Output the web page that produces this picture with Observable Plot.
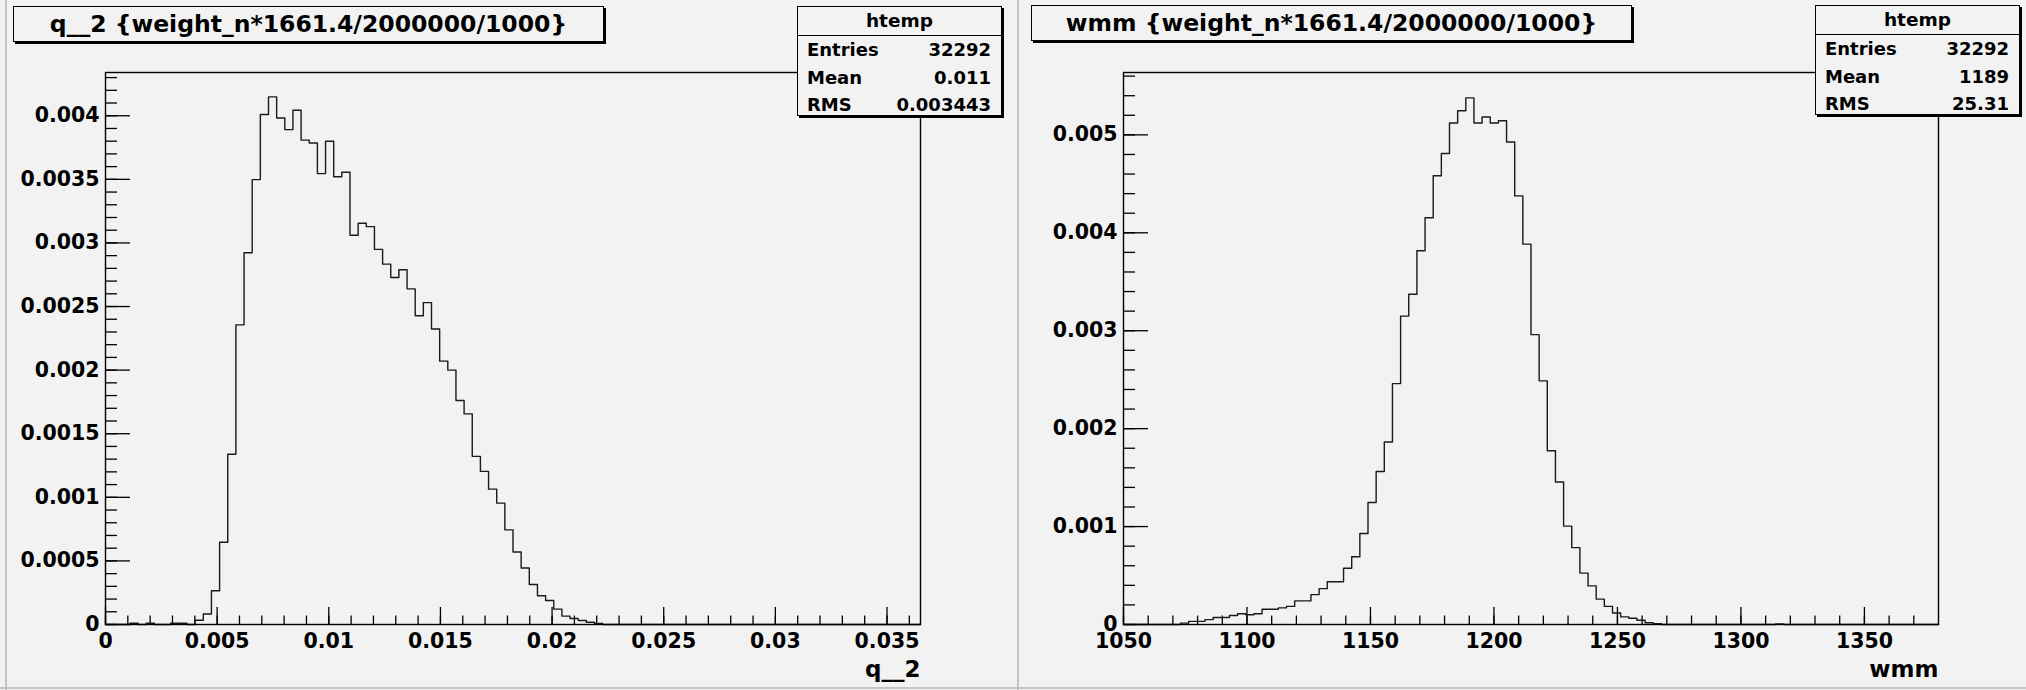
<!DOCTYPE html>
<html>
<head>
<meta charset="utf-8">
<script src="https://cdn.jsdelivr.net/npm/d3@7"></script>
<script src="https://cdn.jsdelivr.net/npm/@observablehq/plot@0.6"></script>
<style>
  html, body { margin: 0; padding: 0; }
  body { width: 2026px; height: 690px; overflow: hidden; position: relative; background: #f2f2f2;
         font-family: "DejaVu Sans", sans-serif; font-weight: bold; color: #000; }
  .pad { position: absolute; top: 0; width: 1013px; height: 690px; }
  .pad svg { position: absolute; left: 0; top: 0; }
  .box { position: absolute; box-sizing: border-box; border: 1.3px solid #000; box-shadow: 2px 2px 0 #000; background: #f2f2f2; }
  .title { font-size: 23.5px; text-align: center; line-height: 1; white-space: nowrap; }
  .title span { position: absolute; left: 0; right: 0; top: 6px; }
  .stats .hdr { position: absolute; left: 0; right: 0; top: 0; height: 28px; border-bottom: 1.3px solid #000; }
  .stats .t { position: absolute; font-size: 18px; line-height: 1; white-space: nowrap; }
  .sep { position: absolute; background: #c4c4c4; }
</style>
</head>
<body>
<div id="left" class="pad" style="left:0"></div>
<div id="right" class="pad" style="left:1013px"></div>
<script>
// ---------- data ----------
const leftTitle = "q__2 {weight_n*1661.4/2000000/1000}";
const rightTitle = "wmm {weight_n*1661.4/2000000/1000}";
const leftXTitle = "q__2";
const rightXTitle = "wmm";
const statsName = "htemp";
const statsLabels = ["Entries", "Mean", "RMS"];
const leftStats = ["32292", "0.011", "0.003443"];
const rightStats = ["32292", "1189", "25.31"];

const leftRange = [0, 0.0365];
const leftValues = [
  0, 0, 0, 0.00001, 0, 0.00001, 0, 0, 0.00001, 0.00001,
  0, 0.000033, 0.000083, 0.000265, 0.000647, 0.001338, 0.002356, 0.002923, 0.003498, 0.00401,
  0.004148, 0.003982, 0.003891, 0.004043, 0.003808, 0.003786, 0.003545, 0.0038, 0.00352, 0.003556,
  0.003061, 0.003155, 0.003128, 0.002949, 0.002833, 0.002728, 0.002789, 0.002639, 0.002428, 0.002531,
  0.002323, 0.002071, 0.002, 0.001761, 0.001656, 0.001322, 0.001204, 0.001064, 0.000954, 0.000744,
  0.00057, 0.000444, 0.000315, 0.000226, 0.000189, 0.000121, 0.000066, 0.000047, 0.000032, 0.000018,
  0.000008, 0, 0, 0, 0, 0, 0, 0, 0, 0,
  0, 0, 0, 0, 0, 0, 0, 0, 0, 0,
  0, 0, 0, 0, 0, 0, 0, 0, 0, 0,
  0, 0, 0, 0, 0, 0, 0, 0, 0, 0
];
const leftXTicks = [0, 0.005, 0.01, 0.015, 0.02, 0.025, 0.03, 0.035];
const leftXLabels = ["0", "0.005", "0.01", "0.015", "0.02", "0.025", "0.03", "0.035"];
const leftYTicks = [0, 0.0005, 0.001, 0.0015, 0.002, 0.0025, 0.003, 0.0035, 0.004];
const leftYLabels = ["0", "0.0005", "0.001", "0.0015", "0.002", "0.0025", "0.003", "0.0035", "0.004"];
const leftYMax = 0.00434;

const rightRange = [1050, 1380];
const rightValues = [
  0, 0, 0, 0, 0, 0, 0, 0.000014, 0.000032, 0.000032,
  0.00005, 0.000071, 0.000071, 0.000092, 0.00011, 0.0001, 0.00011, 0.000156, 0.000156, 0.00017,
  0.000185, 0.000241, 0.000241, 0.000305, 0.000366, 0.000437, 0.000437, 0.000575, 0.000692, 0.00093,
  0.001246, 0.001562, 0.001864, 0.00246, 0.003149, 0.003372, 0.003816, 0.004153, 0.004583, 0.00481,
  0.005122, 0.005247, 0.005378, 0.005122, 0.005183, 0.005122, 0.005144, 0.004927, 0.004377, 0.003884,
  0.00296, 0.002488, 0.001775, 0.001455, 0.001005, 0.000785, 0.000525, 0.000394, 0.000259, 0.000185,
  0.000117, 0.000078, 0.000064, 0.000043, 0.000018, 0.000008, 0, 0, 0, 0,
  0, 0, 0, 0, 0, 0, 0, 0, 0, 0,
  0.000006, 0, 0, 0, 0, 0, 0, 0, 0, 0,
  0, 0, 0, 0, 0, 0, 0, 0, 0, 0
];
const rightXTicks = [1050, 1100, 1150, 1200, 1250, 1300, 1350];
const rightXLabels = ["1050", "1100", "1150", "1200", "1250", "1300", "1350"];
const rightYTicks = [0, 0.001, 0.002, 0.003, 0.004, 0.005];
const rightYLabels = ["0", "0.001", "0.002", "0.003", "0.004", "0.005"];
const rightYMax = 0.005637;

// ---------- drawing ----------
const W = 1013, H = 690, MT = 72, MB = 66;
const INK = "#000";

function histPlot(o) {
  const [x0, x1] = o.range;
  const n = o.values.length, bw = (x1 - x0) / n;
  const pts = o.values.map((v, i) => ({x: x0 + i * bw, y: v}));
  pts.push({x: x1, y: o.values[n - 1]});
  const innerH = H - MT - MB, innerW = W - o.ml - o.mr;
  const xl = new Map(o.xTicks.map((t, i) => [t, o.xLabels[i]]));
  const yl = new Map(o.yTicks.map((t, i) => [t, o.yLabels[i]]));
  return Plot.plot({
    width: W, height: H, marginTop: MT, marginBottom: MB, marginLeft: o.ml, marginRight: o.mr,
    style: {background: "transparent", fontFamily: "DejaVu Sans", fontWeight: "bold", fontSize: "20.5px", color: INK, overflow: "visible"},
    x: {domain: [x0, x1], label: null},
    y: {domain: [0, o.yMax], label: null},
    marks: [
      Plot.tickX(o.xMinor, {x: d => d, insetTop: innerH - 8.5, stroke: INK, strokeWidth: 1.3}),
      Plot.tickX(o.xTicks, {x: d => d, insetTop: innerH - 17, stroke: INK, strokeWidth: 1.3}),
      Plot.tickY(o.yMinor, {y: d => d, insetRight: innerW - 12, stroke: INK, strokeWidth: 1.3}),
      Plot.tickY(o.yTicks, {y: d => d, insetRight: innerW - 25, stroke: INK, strokeWidth: 1.3}),
      Plot.axisX(o.xTicks, {tickSize: 0, tickPadding: 8.5, tickFormat: d => xl.get(d), fontSize: 20.5, fontWeight: "bold"}),
      Plot.axisY(o.yTicks, {tickSize: 0, tickPadding: 6, tickFormat: d => yl.get(d), fontSize: 20.5, fontWeight: "bold"}),
      Plot.line(pts, {x: "x", y: "y", curve: "step-after", stroke: "#1a1a1a", strokeWidth: 1.4}),
      Plot.frame({stroke: INK, strokeWidth: 1.4}),
      Plot.text([o.xTitle], {frameAnchor: "bottom-right", dy: 45, textAnchor: "end", lineAnchor: "middle", fontSize: 23, fontWeight: "bold", fill: INK})
    ]
  });
}

function addBoxes(pad, o) {
  const t = document.createElement("div");
  t.className = "box title";
  Object.assign(t.style, {left: o.tl + "px", top: o.tt + "px", width: o.tw + "px", height: o.th + "px"});
  t.innerHTML = `<span></span>`;
  t.querySelector("span").textContent = o.title;
  pad.appendChild(t);

  const s = document.createElement("div");
  s.className = "box stats";
  Object.assign(s.style, {left: o.sl + "px", top: o.st + "px", width: o.sw + "px", height: o.sh + "px"});
  const hdr = document.createElement("div");
  hdr.className = "hdr";
  s.appendChild(hdr);
  const h = document.createElement("div");
  h.className = "t";
  Object.assign(h.style, {left: "0", right: "0", textAlign: "center", top: "5px", fontSize: "18.5px"});
  h.textContent = statsName;
  s.appendChild(h);
  statsLabels.forEach((lab, i) => {
    const a = document.createElement("div");
    a.className = "t";
    Object.assign(a.style, {left: "9px", top: (34 + i * 27.5) + "px"});
    a.textContent = lab;
    s.appendChild(a);
    const b = document.createElement("div");
    b.className = "t";
    Object.assign(b.style, {right: "10px", top: (34 + i * 27.5) + "px"});
    b.textContent = o.stats[i];
    s.appendChild(b);
  });
  pad.appendChild(s);
}

const leftPad = document.getElementById("left");
const rightPad = document.getElementById("right");

leftPad.appendChild(histPlot({
  range: leftRange, values: leftValues, yMax: leftYMax, ml: 105, mr: 93,
  xTicks: leftXTicks, xLabels: leftXLabels, yTicks: leftYTicks, yLabels: leftYLabels,
  xMinor: d3.range(0, 37).map(i => i * 0.001),
  yMinor: d3.range(0, 44).map(i => i * 0.0001),
  xTitle: leftXTitle
}));
rightPad.appendChild(histPlot({
  range: rightRange, values: rightValues, yMax: rightYMax, ml: 110, mr: 88,
  xTicks: rightXTicks, xLabels: rightXLabels, yTicks: rightYTicks, yLabels: rightYLabels,
  xMinor: d3.range(0, 33).map(i => 1050 + i * 10),
  yMinor: d3.range(0, 29).map(i => i * 0.0002),
  xTitle: rightXTitle
}));

addBoxes(leftPad, {title: leftTitle, tl: 13, tt: 6, tw: 591, th: 36,
  stats: leftStats, sl: 797, st: 6, sw: 205, sh: 110});
addBoxes(rightPad, {title: rightTitle, tl: 18, tt: 5, tw: 601, th: 36,
  stats: rightStats, sl: 802, st: 5, sw: 205, sh: 110});

// pad separators
[[5, 0, 1.5, 690], [1017, 0, 2, 690], [0, 687, 2026, 1.5]].forEach(([x, y, w, h]) => {
  const d = document.createElement("div");
  d.className = "sep";
  Object.assign(d.style, {left: x + "px", top: y + "px", width: w + "px", height: h + "px"});
  document.body.appendChild(d);
});
</script>
</body>
</html>
